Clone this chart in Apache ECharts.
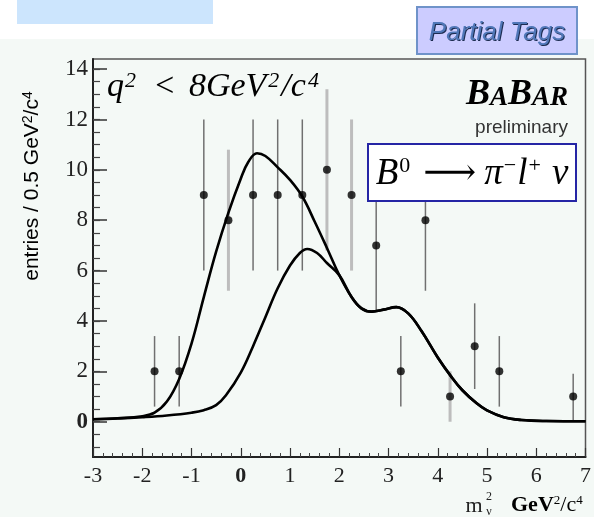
<!DOCTYPE html>
<html>
<head>
<meta charset="utf-8">
<script src="https://cdn.jsdelivr.net/npm/echarts@6/dist/echarts.min.js"></script>
<style>
  html, body { margin: 0; padding: 0; background: #fff; }
  #chart { width: 594px; height: 517px; }
</style>
</head>
<body>
<div id="chart"></div>
<script>
// bin centres (0.5 GeV^2/c^4 bins) and entries
const binCenters = [-1.75, -1.25, -0.75, -0.25, 0.25, 0.75, 1.25, 1.75, 2.25, 2.75, 3.25, 3.75, 4.25, 4.75, 5.25, 6.75];
const entries = [2, 2, 9, 8, 9, 9, 9, 10, 9, 7, 2, 8, 1, 3, 2, 1];
const errLow = [0.6, 0.6, 6.0, 5.2, 6.0, 6.0, 6.0, 6.8, 6.0, 4.4, 0.6, 5.2, 0.0, 1.3, 0.6, 0.0];
const errHigh = [3.4, 3.4, 12.0, 10.8, 12.0, 12.0, 12.0, 13.2, 12.0, 9.6, 3.4, 10.8, 2.0, 4.7, 3.4, 1.9];
// light grey (thick) error bars
const greyBar = [0, 0, 0, 1, 0, 0, 0, 1, 1, 0, 0, 0, 1, 0, 0, 0];

// fit curves: total (signal + background) up to m2=2,
// background component up to m2=2, common tail above
const totalX = [-3, -2.5, -2, -1.75, -1.5, -1.25, -1, -0.75, -0.5, -0.25, 0, 0.15, 0.33, 0.5, 0.75, 1, 1.25, 1.5, 1.75, 2];
const totalY = [0.10, 0.14, 0.22, 0.36, 0.8, 1.7, 3.1, 4.95, 6.75, 8.3, 9.65, 10.3, 10.66, 10.55, 10.1, 9.6, 8.94, 7.95, 6.9, 5.82];
const bkgX = [-3, -2.5, -2, -1.5, -1, -0.75, -0.5, -0.3, 0, 0.25, 0.5, 0.75, 1, 1.2, 1.35, 1.55, 1.75, 2];
const bkgY = [0.10, 0.13, 0.18, 0.25, 0.36, 0.46, 0.66, 1.05, 1.95, 3.0, 4.15, 5.3, 6.2, 6.7, 6.86, 6.7, 6.3, 5.82];
const tailX = [2.25, 2.45, 2.66, 2.9, 3.16, 3.4, 3.67, 4, 4.27, 4.5, 4.79, 5, 5.34, 5.7, 6.2, 7];
const tailY = [4.95, 4.5, 4.37, 4.45, 4.55, 4.3, 3.6, 2.55, 1.8, 1.25, 0.73, 0.45, 0.18, 0.07, 0.03, 0.02];

const yLabels = [0, 2, 4, 6, 8, 10, 12, 14];
const yMinor = [];
for (let v = -1; v <= 14; v += 0.5) yMinor.push(v);

const serif = "'Liberation Serif', 'DejaVu Serif', serif";
const sans = "'Liberation Sans', Arial, sans-serif";
const blue = "#1414a0";

const toPairs = (xs, ys) => xs.map((x, i) => [x, ys[i]]);

let myChart = echarts.init(document.getElementById("chart"));
let option = {
  animation: false,
  grid: {
    left: 93,
    right: 5,
    top: 59,
    bottom: 60,
    show: true,
    borderColor: "#555",
    borderWidth: 1.5,
  },
  xAxis: {
    type: "value",
    min: -3,
    max: 7,
    interval: 1,
    axisLine: { onZero: false, lineStyle: { color: "#222", width: 2 } },
    axisTick: { inside: true, length: 9, lineStyle: { color: "#333", width: 1.2 } },
    minorTick: { show: true, splitNumber: 5, length: 4, lineStyle: { color: "#444" } },
    splitLine: { show: false },
    axisLabel: {
      fontFamily: serif,
      fontSize: 22,
      color: "#222",
      margin: 8,
      formatter: (v) => (v === 0 ? "{b|0}" : String(v)),
      rich: { b: { fontFamily: serif, fontSize: 22, fontWeight: "bold", color: "#222" } },
    },
  },
  yAxis: [
    {
      type: "value",
      min: -1.4,
      max: 14.4,
      axisLine: { onZero: false, lineStyle: { color: "#222", width: 2 } },
      axisTick: { inside: true, length: 14, customValues: yLabels, lineStyle: { color: "#333", width: 1.5 } },
      splitLine: { show: false },
      axisLabel: {
        customValues: yLabels,
        fontFamily: serif,
        fontSize: 23,
        color: "#222",
        margin: 5,
        formatter: (v) => (v === 0 ? "{b|0}" : String(v)),
        rich: { b: { fontFamily: serif, fontSize: 23, fontWeight: "bold", color: "#222" } },
      },
    },
    {
      type: "value",
      min: -1.4,
      max: 14.4,
      position: "left",
      axisLine: { show: false, onZero: false },
      axisTick: { inside: true, length: 7, customValues: yMinor, lineStyle: { color: "#444", width: 1.2 } },
      axisLabel: { show: false },
      splitLine: { show: false },
    },
  ],
  series: [
    {
      type: "custom",
      z: 1,
      renderItem: function (params, api) {
        const x = api.value(0);
        const lo = api.coord([x, api.value(1)]);
        const hi = api.coord([x, api.value(2)]);
        const grey = api.value(3) === 1;
        return {
          type: "line",
          shape: { x1: lo[0], y1: lo[1], x2: hi[0], y2: hi[1] },
          style: { stroke: grey ? "#bdbdbd" : "#707070", lineWidth: grey ? 3 : 1.5 },
        };
      },
      encode: { x: 0, y: [1, 2] },
      data: binCenters.map((x, i) => [x, errLow[i], errHigh[i], greyBar[i]]),
    },
    {
      type: "line",
      z: 3,
      smooth: 0.4,
      showSymbol: false,
      lineStyle: { color: "#000", width: 2.6 },
      data: toPairs(bkgX, bkgY).concat(toPairs(tailX, tailY)),
    },
    {
      type: "line",
      z: 3,
      smooth: 0.4,
      showSymbol: false,
      lineStyle: { color: "#000", width: 2.6 },
      data: toPairs(totalX, totalY).concat(toPairs(tailX, tailY)),
    },
    {
      type: "scatter",
      z: 5,
      symbol: "circle",
      symbolSize: 8,
      itemStyle: { color: "#000" },
      data: toPairs(binCenters, entries),
    },
  ],
  graphic: [
    // page backgrounds
    { type: "rect", z: -10, shape: { x: 0, y: 39, width: 594, height: 478 }, style: { fill: "#f4f9f6" } },
    { type: "rect", z: -10, shape: { x: 17, y: 0, width: 196, height: 24 }, style: { fill: "#cce5fd" } },
    // Partial Tags box
    {
      type: "rect",
      z: 10,
      shape: { x: 417, y: 7, width: 160, height: 47 },
      style: { fill: "#ccccff", stroke: "#6f93c9", lineWidth: 2 },
    },
    {
      type: "text",
      z: 11,
      x: 498,
      y: 34,
      style: { text: "Partial Tags", font: "italic 26px " + sans, fill: "#1c2c50", align: "center", verticalAlign: "middle" },
    },
    {
      type: "text",
      z: 12,
      x: 497,
      y: 33,
      style: { text: "Partial Tags", font: "italic 26px " + sans, fill: "#5077b8", align: "center", verticalAlign: "middle" },
    },
    // y axis title
    {
      type: "text",
      z: 10,
      x: 32,
      y: 186,
      rotation: Math.PI / 2,
      style: {
        text: "{a|entries / 0.5 GeV}{s|2}{a|/c}{s|4}",
        align: "center",
        verticalAlign: "middle",
        rich: {
          a: { fontFamily: sans, fontSize: 21, color: "#333", verticalAlign: "bottom" },
          s: { fontFamily: sans, fontSize: 14, color: "#333", verticalAlign: "top" },
        },
      },
    },
    // q^2 cut
    {
      type: "text",
      z: 10,
      x: 107,
      y: 87,
      style: {
        text: "{m|q}{t|2}{l|<}{m|8GeV}{s|2}{m|/c}{s|4}",
        align: "left",
        verticalAlign: "middle",
        rich: {
          m: { fontFamily: serif, fontStyle: "italic", fontSize: 34, color: blue, verticalAlign: "bottom" },
          l: { fontFamily: serif, fontStyle: "italic", fontSize: 34, color: blue, verticalAlign: "bottom", padding: [0, 13, 0, 0] },
          t: { fontFamily: serif, fontStyle: "italic", fontSize: 22, color: blue, verticalAlign: "top", padding: [0, 17, 0, 1] },
          s: { fontFamily: serif, fontStyle: "italic", fontSize: 22, color: blue, verticalAlign: "top", padding: [0, 2, 0, 2] },
        },
      },
    },
    // BaBar logo
    {
      type: "text",
      z: 10,
      x: 568,
      y: 95,
      style: {
        text: "{b|B}{a|A}{b|B}{a|AR}",
        align: "right",
        verticalAlign: "middle",
        rich: {
          b: { fontFamily: serif, fontStyle: "italic", fontWeight: "bold", fontSize: 36, color: "#111", verticalAlign: "bottom" },
          a: { fontFamily: serif, fontStyle: "italic", fontWeight: "bold", fontSize: 27, color: "#111", verticalAlign: "bottom", padding: [0, 0, 1, 0] },
        },
      },
    },
    {
      type: "text",
      z: 10,
      x: 568,
      y: 128,
      style: { text: "preliminary", font: "19px " + sans, fill: "#333", align: "right", verticalAlign: "middle" },
    },
    // decay box
    {
      type: "rect",
      z: 10,
      shape: { x: 368, y: 144, width: 208, height: 57 },
      style: { fill: "#fff", stroke: "#2525a5", lineWidth: 2 },
    },
    {
      type: "text",
      z: 11,
      x: 472,
      y: 174,
      style: {
        text: "{i|B}{s|0}{r|⟶}{i|π}{s|−}{i|l}{s|+}{v|ν}",
        align: "center",
        verticalAlign: "middle",
        rich: {
          i: { fontFamily: serif, fontStyle: "italic", fontSize: 37, color: blue, verticalAlign: "bottom" },
          v: { fontFamily: serif, fontStyle: "italic", fontSize: 37, color: blue, verticalAlign: "bottom", padding: [0, 0, 0, 10] },
          r: { fontFamily: serif, fontSize: 37, color: blue, verticalAlign: "bottom", padding: [0, 8, 0, 12] },
          s: { fontFamily: serif, fontSize: 22, color: blue, verticalAlign: "top", padding: [0, 1, 0, 1] },
        },
      },
    },
    // x axis title
    { type: "text", z: 10, x: 474, y: 506, style: { text: "m", font: "22px " + serif, fill: "#222", align: "center", verticalAlign: "middle" } },
    { type: "text", z: 10, x: 489, y: 497, style: { text: "2", font: "12px " + serif, fill: "#222", align: "center", verticalAlign: "middle" } },
    { type: "text", z: 10, x: 489, y: 512, style: { text: "ν", font: "12px " + serif, fill: "#222", align: "center", verticalAlign: "middle" } },
    {
      type: "text",
      z: 10,
      x: 511,
      y: 505,
      style: {
        text: "{g|GeV}{s|2}{c|/c}{s|4}",
        align: "left",
        verticalAlign: "middle",
        rich: {
          g: { fontFamily: serif, fontWeight: "bold", fontSize: 22, color: "#222", verticalAlign: "bottom" },
          c: { fontFamily: serif, fontSize: 22, color: "#222", verticalAlign: "bottom" },
          s: { fontFamily: serif, fontSize: 13, color: "#222", verticalAlign: "top" },
        },
      },
    },
  ],
};
myChart.setOption(option);
</script>
</body>
</html>
